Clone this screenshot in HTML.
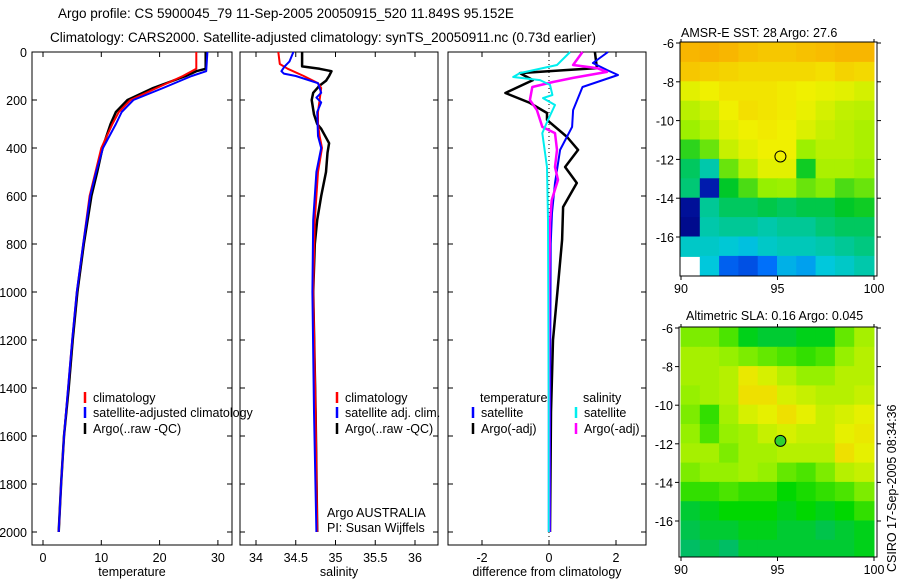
<!DOCTYPE html>
<html><head><meta charset="utf-8">
<style>
html,body{margin:0;padding:0;background:#fff;}
svg{display:block;font-family:"Liberation Sans",sans-serif;}
text{font-size:12.5px;fill:#000;}
</style></head>
<body>
<svg id="fig" width="900" height="580" viewBox="0 0 900 580">
<text x="58" y="18" style="font-size:13.5px">Argo profile: CS 5900045_79 11-Sep-2005 20050915_520 11.849S 95.152E</text>
<text x="50" y="42" style="font-size:13.5px">Climatology: CARS2000. Satellite-adjusted climatology: synTS_20050911.nc (0.73d earlier)</text>
<text x="681" y="37">AMSR-E SST: 28 Argo: 27.6</text>
<text x="686" y="320">Altimetric SLA: 0.16 Argo: 0.045</text>
<text transform="translate(896,572) rotate(-90)">CSIRO 17-Sep-2005 08:34:36</text>
<g id="p1"></g>
<g id="p2"></g>
<g id="p3"></g>
<g id="m1"></g>
<g id="m2"></g>
</svg>
<script>
// ---------- data ----------
const depthTicks = [0,200,400,600,800,1000,1200,1400,1600,1800,2000];
const tempTicks = [0,10,20,30];
const salTicks = [34,34.5,35,35.5,36];
const salTickLabels = ["34","34.5","35","35.5","36"];
const diffTicks = [-2,0,2];

const tClimDepth = [0,70,100,150,200,250,300,400,500,600,800,1000,1200,1400,1600,1800,2000];
const tClimVal   = [26.3,26.3,24,19.5,15,13,11.9,10,9,8,6.9,5.8,5,4.3,3.6,3.1,2.7];
const tSatDepth  = [0,80,100,150,200,250,300,400,500,600,800,1000,1200,1400,1600,1800,2000];
const tSatVal    = [28.2,28.0,25.5,20.6,15.5,13.5,12.5,10.3,9.1,8.1,6.9,5.8,5,4.3,3.6,3.1,2.7];
const tArgoDepth = [0,70,80,100,150,200,250,300,400,500,600,800,1000,1200,1400,1600,1800,2000];
const tArgoVal   = [27.9,27.9,26.3,24.5,18.9,14.5,12.5,11.6,10.2,9.3,8.3,7.0,5.9,5.1,4.4,3.6,3.1,2.7];

const sClimDepth = [0,50,70,100,130,150,200,250,300,350,400,500,700,1000,1500,2000];
const sClimVal   = [34.28,34.3,34.4,34.6,34.78,34.82,34.8,34.78,34.78,34.8,34.83,34.78,34.74,34.72,34.75,34.77];
const sSatDepth  = [0,40,60,80,90,100,130,170,190,210,250,350,400,500,700,1000,1500,2000];
const sSatVal    = [34.47,34.42,34.36,34.32,34.35,34.5,34.78,34.82,34.76,34.82,34.77,34.78,34.82,34.76,34.72,34.71,34.73,34.76];
const sArgoDepth = [0,60,70,80,100,120,140,170,200,260,300,320,380,420,500,600,700,800,1000,1500,2000];
const sArgoVal   = [34.58,34.58,34.8,34.95,34.92,34.88,34.8,34.72,34.7,34.73,34.77,34.82,34.92,34.9,34.88,34.82,34.77,34.74,34.72,34.75,34.77];

const dTSatDepth = [0,46,75,96,146,242,312,408,546,671,800,1200,1600,2000];
const dTSatVal   = [1.76,1.31,1.73,2.06,1.0,0.72,0.69,0.33,0.18,0.09,0.05,0.04,0.03,0.03];
const dTArgoDepth = [0,67,75,88,117,171,212,254,283,354,408,479,546,646,783,1000,1200,1500,2000];
const dTArgoVal   = [1.37,1.43,0.54,-0.87,-0.48,-1.3,-0.57,-0.06,-0.06,0.54,0.87,0.48,0.83,0.42,0.39,0.25,0.12,0.06,0.03];
const dSSatDepth = [0,54,88,104,117,137,179,192,221,283,338,479,700,1000,1500,2000];
const dSSatVal   = [0.63,0.24,-0.87,-1.07,-0.27,0.03,0.1,-0.18,0.18,-0.03,-0.2,-0.06,-0.03,-0.02,-0.01,-0.01];
const dSArgoDepth = [0,54,67,83,108,125,146,200,242,312,338,408,479,533,617,712,1000,1500,2000];
const dSArgoVal   = [1.0,0.72,1.43,1.73,0.72,0.12,-0.5,-0.57,-0.36,-0.2,0.18,0.24,0.18,0.27,0.08,0.03,0.0,0.0,0.0];

const latTicks = [-6,-8,-10,-12,-14,-16];
const lonTicks = [90,95,100];
const sstRows = [
 [0.88,0.89,0.88,0.86,0.85,0.85,0.86,0.87,0.88,0.88],
 [0.85,0.84,0.83,0.82,0.82,0.82,0.82,0.81,0.83,0.82],
 [0.76,0.78,0.8,0.8,0.8,0.79,0.78,0.77,0.76,0.74],
 [0.7,0.73,0.78,0.81,0.8,0.79,0.77,0.74,0.71,0.7],
 [0.66,0.7,0.76,0.78,0.79,0.78,0.75,0.72,0.7,0.68],
 [0.58,0.62,0.72,0.76,0.78,0.78,0.66,0.7,0.7,0.68],
 [0.5,0.42,0.62,0.7,0.76,0.76,0.56,0.68,0.68,0.66],
 [0.48,0.1,0.55,0.6,0.65,0.66,0.62,0.64,0.6,0.62],
 [0.06,0.45,0.5,0.5,0.52,0.5,0.52,0.52,0.55,0.56],
 [0.04,0.42,0.45,0.45,0.42,0.45,0.45,0.48,0.5,0.5],
 [0.38,0.38,0.36,0.34,0.38,0.4,0.4,0.42,0.45,0.47],
 [-1,0.35,0.22,0.2,0.24,0.32,0.3,0.35,0.38,0.42]
];
const slaRows = [
 [0.45,0.45,0.35,0.15,0.1,0.1,0.15,0.15,0.4,0.55],
 [0.55,0.55,0.5,0.45,0.4,0.35,0.3,0.35,0.5,0.6],
 [0.55,0.55,0.6,0.8,0.7,0.6,0.5,0.5,0.6,0.6],
 [0.5,0.55,0.6,0.85,0.85,0.7,0.65,0.6,0.6,0.65],
 [0.45,0.3,0.55,0.7,0.75,0.85,0.75,0.65,0.7,0.75],
 [0.5,0.35,0.5,0.55,0.65,0.7,0.65,0.65,0.75,0.8],
 [0.55,0.55,0.45,0.55,0.55,0.6,0.6,0.6,0.85,0.75],
 [0.45,0.5,0.5,0.55,0.5,0.4,0.35,0.45,0.6,0.65],
 [0.3,0.3,0.35,0.3,0.3,0.2,0.25,0.3,0.35,0.45],
 [0.1,0.15,0.2,0.2,0.2,0.15,0.2,0.15,0.2,0.3],
 [0.05,0.1,0.1,0.15,0.15,0.1,0.1,0.05,0.1,0.15],
 [0.0,0.05,0.0,0.1,0.1,0.1,0.1,0.1,0.1,0.15]
];
const argoLon = 95.152, argoLat = -11.849;

// ---------- drawing ----------
const NS="http://www.w3.org/2000/svg";
const FB=545; // frame bottom
function mk(parent,tag,attrs){const e=document.createElementNS(NS,tag);for(const k in attrs)e.setAttribute(k,attrs[k]);parent.appendChild(e);return e;}
const yD = d => 52 + d*0.24;

function panel(g,x0,x1,xs,ticks,labels,xlabel){
  const r=mk(g,'rect',{x:x0,y:52,width:x1-x0,height:FB-52,fill:'none',stroke:'#000','stroke-width':1});
  
  
  ticks.forEach((t,i)=>{
    const x=xs(t);
    mk(g,'line',{x1:x,x2:x,y1:52,y2:57,stroke:'#000'});
    mk(g,'line',{x1:x,x2:x,y1:FB-5,y2:FB,stroke:'#000'});
    const tx=mk(g,'text',{x:x,y:562,'text-anchor':'middle'});tx.textContent=labels[i];
    
    
  });
  depthTicks.forEach(d=>{
    const y=yD(d);
    mk(g,'line',{x1:x0,x2:x0+5,y1:y,y2:y,stroke:'#000'});
    mk(g,'line',{x1:x1-5,x2:x1,y1:y,y2:y,stroke:'#000'});
  });
  const xl=mk(g,'text',{x:(x0+x1)/2,y:576,'text-anchor':'middle'});xl.textContent=xlabel;
  
  
}
function line(g,xs,ds,vs,color,w,name){
  const pts=ds.map((d,i)=>xs(vs[i]).toFixed(1)+','+yD(d).toFixed(1)).join(' ');
  const p=mk(g,'polyline',{points:pts,fill:'none',stroke:color,'stroke-width':w,'stroke-linejoin':'round'});
  
  
}
function legend(g,x,y,color,label,name){
  mk(g,'line',{x1:x,x2:x,y1:y-10,y2:y+1,stroke:color,'stroke-width':2.5});
  const t=mk(g,'text',{x:x+8,y:y});t.textContent=label;
  
  
}

// Panel 1
const p1=document.getElementById('p1');
const xT=t=>43+5.83*t;
panel(p1,32,232,xT,tempTicks,tempTicks.map(String),'temperature');
depthTicks.forEach(d=>{const t=mk(p1,'text',{x:27,y:yD(d)+5,'text-anchor':'end'});t.textContent=d;
  
  });
line(p1,xT,tArgoDepth,tArgoVal,'#000',2.5,'temp-argo-line');
line(p1,xT,tClimDepth,tClimVal,'#f00',2,'temp-clim-line');
line(p1,xT,tSatDepth,tSatVal,'#00f',2,'temp-sat-line');
legend(p1,85,402,'#f00','climatology','legend-climatology');
legend(p1,85,417,'#00f','satellite-adjusted climatology','legend-satellite');
legend(p1,85,433,'#000','Argo(..raw -QC)','legend-argo');

// Panel 2
const p2=document.getElementById('p2');
const xS=s=>256+79.5*(s-34);
panel(p2,240,438,xS,salTicks,salTickLabels,'salinity');
line(p2,xS,sArgoDepth,sArgoVal,'#000',2.5,'sal-argo-line');
line(p2,xS,sClimDepth,sClimVal,'#f00',2,'sal-clim-line');
line(p2,xS,sSatDepth,sSatVal,'#00f',2,'sal-sat-line');
legend(p2,337,402,'#f00','climatology','legend-sal-climatology');
legend(p2,337,417,'#00f','satellite adj. clim.','legend-sal-satellite');
legend(p2,337,433,'#000','Argo(..raw -QC)','legend-sal-argo');
{const t=mk(p2,'text',{x:327,y:517});t.textContent='Argo AUSTRALIA';
 
 
 const t2=mk(p2,'text',{x:327,y:532});t2.textContent='PI: Susan Wijffels';
 
 }

// Panel 3
const p3=document.getElementById('p3');
const xDf=v=>549+33.5*v;
panel(p3,448,646,xDf,diffTicks,diffTicks.map(String),'difference from climatology');
mk(p3,'line',{x1:xDf(0),x2:xDf(0),y1:52,y2:FB,stroke:'#000','stroke-dasharray':'1,3'});
line(p3,xDf,dTArgoDepth,dTArgoVal,'#000',2.5,'diff-temp-argo-line');
line(p3,xDf,dTSatDepth,dTSatVal,'#00f',2,'diff-temp-sat-line');
line(p3,xDf,dSArgoDepth,dSArgoVal,'#f0f',2.5,'diff-sal-argo-line');
line(p3,xDf,dSSatDepth,dSSatVal,'#0ee',2,'diff-sal-sat-line');
{const t=mk(p3,'text',{x:480,y:402});t.textContent='temperature';
 
 
 const t2=mk(p3,'text',{x:583,y:402});t2.textContent='salinity';
 
 }
legend(p3,473,417,'#00f','satellite','legend-diff-temp-sat');
legend(p3,473,433,'#000','Argo(-adj)','legend-diff-temp-argo');
legend(p3,576,417,'#0ee','satellite','legend-diff-sal-sat');
legend(p3,576,433,'#f0f','Argo(-adj)','legend-diff-sal-argo');

// colour maps
function lerpStops(stops,v){
  for(let i=0;i<stops.length-1;i++){
    const a=stops[i],b=stops[i+1];
    if(v<=b[0]){const f=(v-a[0])/(b[0]-a[0]);
      return 'rgb('+[1,2,3].map(k=>Math.round(a[k]+(b[k]-a[k])*f)).join(',')+')';}
  }
  const l=stops[stops.length-1];return 'rgb('+l[1]+','+l[2]+','+l[3]+')';
}
const sstStops=[[0,0,0,120],[0.15,0,40,200],[0.25,0,120,255],[0.35,0,200,220],[0.45,0,200,150],[0.55,0,200,40],[0.65,150,240,0],[0.78,240,240,0],[0.9,250,170,0],[1,240,130,0]];
const slaStops=[[0,0,190,100],[0.2,0,215,0],[0.5,150,240,0],[0.75,230,240,0],[1,250,200,0]];

function mapPanel(g,x0,y0,x1,y1,lat6y,pxPerLat,rows,stops,fillMarker){
  const xL=lon=>681+(lon-90)*19.3;
  const yL=lat=>lat6y+(-6-lat)*pxPerLat;
  rows.forEach((row,ri)=>row.forEach((v,ci)=>{
    if(v<0)return;
    const lonA=90+ci, latA=-6-ri;
    const xa=Math.max(x0,xL(lonA)-0.5), xb=Math.min(x1,xL(lonA+1)+0.5);
    const ya=Math.max(y0,yL(latA)-(ri===0?20:0)-0.5), yb=Math.min(y1,yL(latA-1)+0.5);
    const r=mk(g,'rect',{x:xa,y:ya,width:xb-xa,height:yb-ya,fill:lerpStops(stops,v)});
    
    
  }));
  mk(g,'rect',{x:x0,y:y0,width:x1-x0,height:y1-y0,fill:'none',stroke:'#000'});
  latTicks.forEach(l=>{const y=yL(l);
    mk(g,'line',{x1:x0-4,x2:x0,y1:y,y2:y,stroke:'#000'});
    mk(g,'line',{x1:x1,x2:x1+4,y1:y,y2:y,stroke:'#000'});
    const t=mk(g,'text',{x:x0-6,y:y+5,'text-anchor':'end'});t.textContent=l;
    
    });
  lonTicks.forEach(l=>{const x=xL(l);
    mk(g,'line',{x1:x,x2:x,y1:y1,y2:y1+4,stroke:'#000'});
    mk(g,'line',{x1:x,x2:x,y1:y0-3,y2:y0,stroke:'#000'});
    const t=mk(g,'text',{x:x,y:y1+17,'text-anchor':'middle'});t.textContent=l;
    
    });
  const c=mk(g,'circle',{cx:xL(argoLon),cy:yL(argoLat),r:5.5,fill:fillMarker,stroke:'#000'});
  
  
}
mapPanel(document.getElementById('m1'),680,42,877,276,43,19.4,sstRows,sstStops,'none');
mapPanel(document.getElementById('m2'),679,327,877,557,328,19.3,slaRows,slaStops,'#30d030');
</script>
</body></html>
